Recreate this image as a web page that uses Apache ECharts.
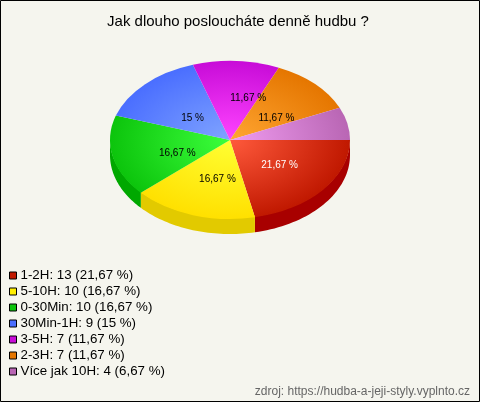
<!DOCTYPE html>
<html>
<head>
<meta charset="utf-8">
<style>
html,body{margin:0;padding:0;background:#f5f5ee;}
#c{width:480px;height:402px;}
</style>
<script src="https://cdn.jsdelivr.net/npm/echarts@6/dist/echarts.min.js"></script>
</head>
<body>
<div id="c"></div>
<script>
const categories = ['1-2H','5-10H','0-30Min','30Min-1H','3-5H','2-3H','Více jak 10H'];
const counts = [13,10,10,9,7,7,4];
const percentLabels = ['21,67 %','16,67 %','16,67 %','15 %','11,67 %','11,67 %','6,67 %'];
const showOnSlice = [true,true,true,true,true,true,false];
const titleText = 'Jak dlouho posloucháte denně hudbu ?';
const sourceText = 'zdroj: https://hudba-a-jeji-styly.vyplnto.cz';

const innerColors = ['#ff5a3c','#ffff33','#3cff3c','#80a4ff','#ff44ff','#ffa632','#f09cf0'];
const outerColors = ['#c01800','#ffe000','#0cc40c','#4a6eff','#c80cd8','#e57600','#b966b4'];
const wallColors  = ['#a80000','#e2ca00','#00a800','#3050c0','#9000a0','#b05000','#8a4080'];
const swatchColors = ['#c01800','#ffee00','#0cc40c','#4a6eff','#c80cd8','#e57600','#b966b4'];
const labelNudge = [[3,0],[6,2],[6,5],[5,6],[15,-2],[4,6],[0,0]];

const CX = 230, CY = 140, RX = 120, RY = 79, DEPTH = 15;
const total = counts.reduce((a,b)=>a+b,0);
const starts = [];
counts.reduce((acc,v,i)=>{ starts[i]=acc; return acc+v; },0);
const toAngle = v => v/total*Math.PI*2;

function arcPoints(a0,a1,dy){
  const pts=[]; const n=40;
  for(let k=0;k<=n;k++){
    const a=a0+(a1-a0)*k/n;
    pts.push([CX+RX*Math.cos(a),CY+dy+RY*Math.sin(a)]);
  }
  return pts;
}

function renderSlice(params, api){
  const i = params.seriesIndex;
  const a0 = toAngle(starts[i]);
  const a1 = a0 + toAngle(api.value(0));
  const children = [];
  const wa1 = Math.min(a1,Math.PI);
  if(a0 < Math.PI){
    const top = arcPoints(a0,wa1,-1);
    const bottom = arcPoints(a0,wa1,DEPTH).reverse();
    children.push({type:'polygon',shape:{points:top.concat(bottom)},style:{fill:wallColors[i]}});
  }
  children.push({
    type:'group', x:CX, y:CY, scaleY:RY/RX,
    children:[{
      type:'sector',
      shape:{cx:0,cy:0,r:RX,r0:0,startAngle:a0,endAngle:a1,clockwise:true},
      style:{fill:{type:'radial',x:0,y:0,r:RX,global:true,
        colorStops:[{offset:0,color:innerColors[i]},{offset:1,color:outerColors[i]}]}}
    }]
  });
  if(showOnSlice[i]){
    const m=(a0+a1)/2;
    children.push({
      type:'text', z2:50,
      x:CX+RX*0.5*Math.cos(m)+labelNudge[i][0],
      y:CY+RY*0.5*Math.sin(m)+labelNudge[i][1],
      style:{text:percentLabels[i],fill:i===0?'#ffffff':'#000000',
        font:'10px "Liberation Sans", Arial, sans-serif',align:'center',verticalAlign:'middle'}
    });
  }
  return {type:'group',children};
}

const legendNames = categories.map((c,i)=>c+': '+counts[i]+' ('+percentLabels[i]+')');

const chart = echarts.init(document.getElementById('c'),null,{renderer:'canvas'});
chart.setOption({
  animation:false,
  backgroundColor:'#f5f5ee',
  title:[
    {text:titleText,left:233,top:9,textAlign:'center',
     textStyle:{fontFamily:'"Liberation Sans"',fontSize:15,fontWeight:'normal',color:'#000'}},
    {text:sourceText,right:5,top:381,
     textStyle:{fontFamily:'"Liberation Sans"',fontSize:12,fontWeight:'normal',color:'#666'}}
  ],
  legend:{
    orient:'vertical',left:4,top:264,itemWidth:7,itemHeight:7,itemGap:3,
    selectedMode:false,icon:'rect',
    textStyle:{fontFamily:'"Liberation Sans"',fontSize:13.33,color:'#000',padding:[0,0,0,-1],height:12,lineHeight:12},
    data:legendNames.map((n,i)=>({name:n,itemStyle:{color:swatchColors[i],borderColor:'#000',borderWidth:1}}))
  },
  graphic:[{type:'rect',silent:true,z:100,shape:{x:0.5,y:0.5,width:479,height:401},
    style:{fill:'none',stroke:'#000',lineWidth:1}}],
  series:legendNames.map((n,i)=>({
    type:'custom',name:n,coordinateSystem:'none',silent:true,
    itemStyle:{color:swatchColors[i]},
    data:[[counts[i]]],renderItem:renderSlice
  }))
});
</script>
</body>
</html>
